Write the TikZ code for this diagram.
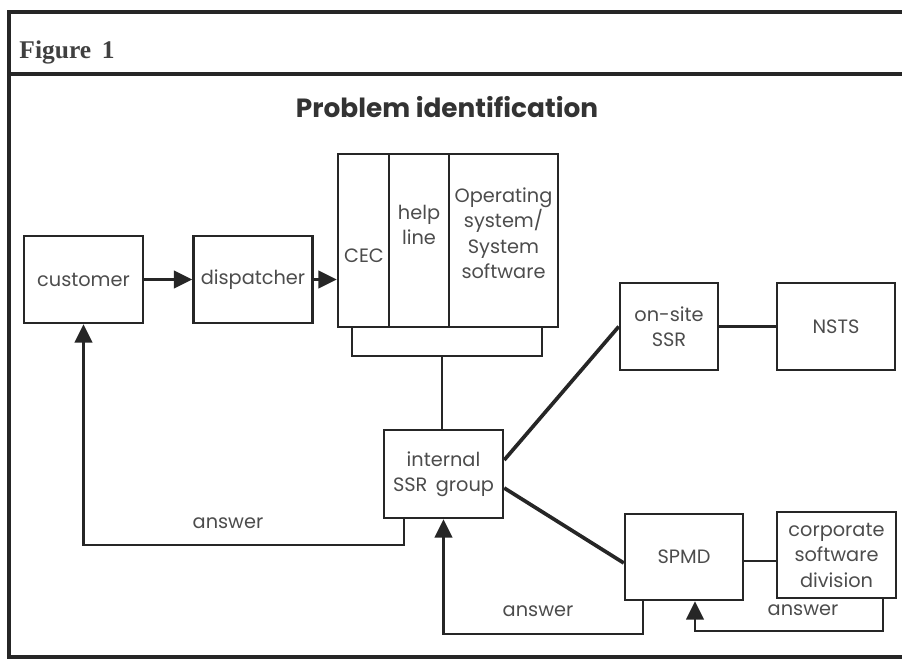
\documentclass[tikz,border=0pt]{standalone}
\usepackage{fontspec}
\setsansfont{Poppins}
\newfontfamily\figfont{Liberation Serif}
\usetikzlibrary{arrows.meta}

\begin{document}
\begin{tikzpicture}[x=0.02cm,y=-0.02cm,
  box/.style={draw=black!85,line width=1.4pt,minimum width=2.38cm,minimum height=1.74cm,inner sep=1pt,align=center,font=\sffamily\fontsize{11}{14.5}\selectfont,text=black!70},
  col/.style={draw=black!85,line width=1.4pt,minimum height=3.46cm,inner sep=0pt},
  lbl/.style={font=\sffamily\fontsize{11}{14.5}\selectfont,text=black!70,align=center},
  link/.style={draw=black!85,line width=1.3pt},
  heavy/.style={draw=black!85,line width=2.1pt},
  tip/.style={-{Triangle[length=10.5pt,width=10pt]}}]
\useasboundingbox (0,0) rectangle (902,659);
% frame
\draw[black!85,line width=1.9pt] (902,12) -- (9,12) -- (9,657) -- (902,657);
\draw[black!85,line width=1.9pt] (9,74) -- (902,74);
\node (fig) at (67,52) {\figfont\fontsize{14.5}{17}\selectfont\bfseries\color{black!75}Figure\, 1};
\node (title) at (447,107) {\sffamily\fontsize{15}{18}\selectfont\bfseries\color{black!80}Problem identification};
% boxes
\node[box] (customer) at (83.5,279.5) {customer};
\node[box] (dispatcher) at (253,279.5) {dispatcher};
\node[col,minimum width=1.02cm] (cec) at (363.5,240.5) {};
\node[col,minimum width=1.2cm] (help) at (419,240.5) {};
\node[col,minimum width=2.18cm] (ossw) at (503.5,240.5) {};
\node[lbl] (ceclbl) at (364,256) {CEC};
\node[lbl] (helplbl) at (419,225) {help\\line};
\node[lbl] (osswlbl) at (503.5,233) {Operating\\system/\\System\\software};
\node[box,minimum height=1.76cm] (ssr) at (443.5,474) {internal\\SSR\, group};
\node[box,minimum width=1.96cm] (onsite) at (669,326.5) {on-site\\SSR};
\node[box,minimum width=2.36cm] (nsts) at (836,326.5) {NSTS};
\node[box,minimum width=2.36cm,minimum height=1.72cm] (spmd) at (684,557) {SPMD};
\node[box,minimum width=2.38cm,minimum height=1.72cm] (corp) at (836.5,555) {corporate\\software\\division};
% bracket under the three columns
\coordinate (bl) at (352,327);
\coordinate (br) at (542,327);
\coordinate (bm) at (442,356);
\draw[link] (bl) |- (bm) -| (br);
\draw[link] (bm) -- (bm |- ssr.north);
% connectors
\draw[link,tip] (customer) -- (dispatcher);
\draw[link,tip] (dispatcher.east) -- (dispatcher.east -| cec.west);
\draw[heavy] ([yshift=0.28cm]ssr.east) -- (onsite.west);
\draw[heavy] ([yshift=-0.28cm]ssr.east) -- ([yshift=-0.12cm]spmd.west);
\draw[link] (onsite) -- (nsts);
\draw[link] ([yshift=-0.08cm]spmd.east) -- ([yshift=-0.08cm]spmd.east -| corp.west);
% answers
\draw[link,tip] ([xshift=-0.79cm]ssr.south) -- ++(0,26) -| (customer.south);
\node[lbl] (ans1) at (228,523) {answer};
\draw[link,tip] ([xshift=-0.82cm]spmd.south) -- ++(0,33) -| (ssr.south);
\node[lbl] (ans2) at (538,611) {answer};
\draw[link,tip] ([xshift=0.93cm]corp.south) -- ++(0,32) -| ([xshift=0.22cm]spmd.south);
\node[lbl] (ans3) at (803,610) {answer};
\end{tikzpicture}
\end{document}
